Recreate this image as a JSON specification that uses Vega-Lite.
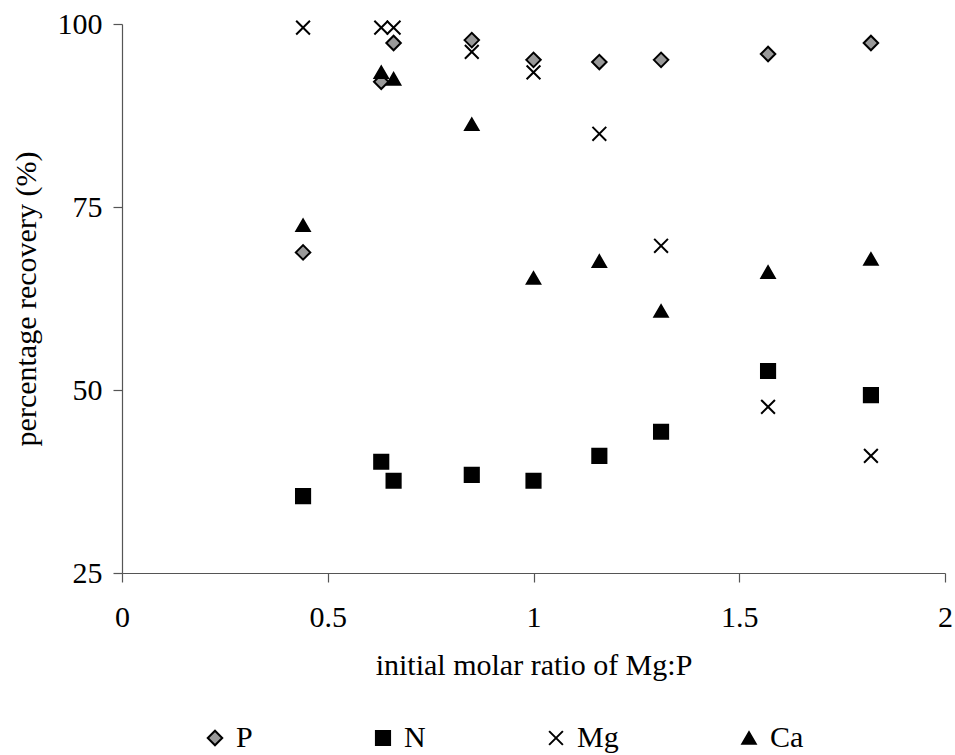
{
  "$schema": "https://vega.github.io/schema/vega-lite/v6.json",
  "autosize": {"type": "none"},
  "padding": {"left": 122, "top": 24, "right": 10, "bottom": 182},
  "width": 823,
  "height": 549,
  "background": "white",
  "config": {
    "view": {"stroke": null},
    "font": "Liberation Serif",
    "legend": {"labelFont": "Liberation Serif"},
    "axis": {"grid": false, "domainColor": "#555", "tickColor": "#555", "domainWidth": 1.2, "tickWidth": 1.2, "tickSize": 9, "labelFont": "Liberation Serif", "titleFont": "Liberation Serif", "labelColor": "black", "titleColor": "black", "labelFontSize": 30, "titleFontSize": 30, "titleFontWeight": "normal", "labelFlush": false}
  },
  "data": {"values": [
    {"ratio": 0.44, "series": "P", "recovery": 68.8},
    {"ratio": 0.63, "series": "P", "recovery": 92.1},
    {"ratio": 0.66, "series": "P", "recovery": 97.4},
    {"ratio": 0.85, "series": "P", "recovery": 97.8},
    {"ratio": 1.0, "series": "P", "recovery": 95.1},
    {"ratio": 1.16, "series": "P", "recovery": 94.8},
    {"ratio": 1.31, "series": "P", "recovery": 95.1},
    {"ratio": 1.57, "series": "P", "recovery": 95.9},
    {"ratio": 1.82, "series": "P", "recovery": 97.4},
    {"ratio": 0.44, "series": "N", "recovery": 35.5},
    {"ratio": 0.63, "series": "N", "recovery": 40.2},
    {"ratio": 0.66, "series": "N", "recovery": 37.6},
    {"ratio": 0.85, "series": "N", "recovery": 38.4},
    {"ratio": 1.0, "series": "N", "recovery": 37.6},
    {"ratio": 1.16, "series": "N", "recovery": 41.0},
    {"ratio": 1.31, "series": "N", "recovery": 44.3},
    {"ratio": 1.57, "series": "N", "recovery": 52.6},
    {"ratio": 1.82, "series": "N", "recovery": 49.3},
    {"ratio": 0.44, "series": "Mg", "recovery": 99.5},
    {"ratio": 0.63, "series": "Mg", "recovery": 99.5},
    {"ratio": 0.66, "series": "Mg", "recovery": 99.5},
    {"ratio": 0.85, "series": "Mg", "recovery": 96.2},
    {"ratio": 1.0, "series": "Mg", "recovery": 93.4},
    {"ratio": 1.16, "series": "Mg", "recovery": 85.0},
    {"ratio": 1.31, "series": "Mg", "recovery": 69.7},
    {"ratio": 1.57, "series": "Mg", "recovery": 47.7},
    {"ratio": 1.82, "series": "Mg", "recovery": 41.0},
    {"ratio": 0.44, "series": "Ca", "recovery": 72.5},
    {"ratio": 0.63, "series": "Ca", "recovery": 93.4},
    {"ratio": 0.66, "series": "Ca", "recovery": 92.5},
    {"ratio": 0.85, "series": "Ca", "recovery": 86.3},
    {"ratio": 1.0, "series": "Ca", "recovery": 65.3},
    {"ratio": 1.16, "series": "Ca", "recovery": 67.6},
    {"ratio": 1.31, "series": "Ca", "recovery": 60.8},
    {"ratio": 1.57, "series": "Ca", "recovery": 66.1},
    {"ratio": 1.82, "series": "Ca", "recovery": 67.9}
  ]},
  "mark": {"type": "point", "filled": true, "stroke": "black", "strokeWidth": 2, "opacity": 1},
  "encoding": {
    "x": {"field": "ratio", "type": "quantitative", "scale": {"domain": [0, 2], "nice": false, "zero": false},
      "axis": {"values": [0, 0.5, 1, 1.5, 2], "format": "~g", "title": "initial molar ratio of Mg:P", "labelPadding": 20, "titlePadding": 18}},
    "y": {"field": "recovery", "type": "quantitative", "scale": {"domain": [25, 100], "nice": false, "zero": false},
      "axis": {"values": [25, 50, 75, 100], "title": "percentage  recovery (%)", "labelPadding": 11, "titlePadding": 16}},
    "shape": {"field": "series", "type": "nominal", "sort": ["P", "N", "Mg", "Ca"],
      "scale": {"domain": ["P", "N", "Mg", "Ca"], "range": ["diamond", "square", "M-1,-1L1,1M-1,1L1,-1", "triangle-up"]},
      "legend": {"title": null, "orient": "none", "direction": "horizontal", "legendX": 78, "legendY": 699, "labelFont": "Liberation Serif", "labelFontSize": 30, "labelColor": "black", "columnPadding": 115, "symbolStrokeColor": "black", "symbolStrokeWidth": 2, "labelOffset": 6}},
    "fill": {"field": "series", "type": "nominal",
      "scale": {"domain": ["P", "N", "Mg", "Ca"], "range": ["#999999", "black", "black", "black"]}},
    "size": {"field": "series", "type": "nominal",
      "scale": {"domain": ["P", "N", "Mg", "Ca"], "range": [210, 180, 300, 180]}}
  }
}
